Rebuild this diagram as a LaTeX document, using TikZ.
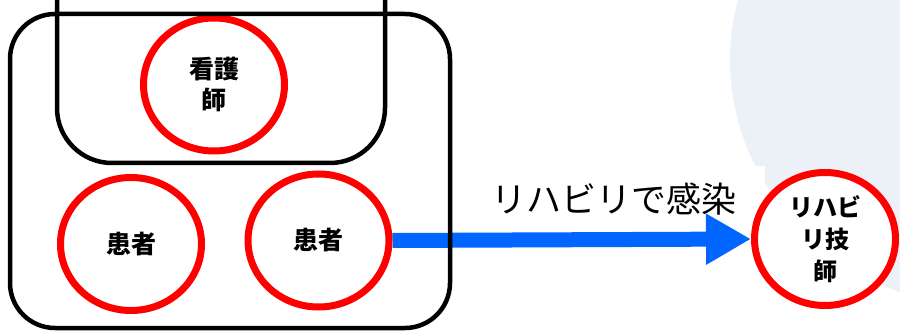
\documentclass[tikz,border=0pt]{standalone}
\usepackage{fontspec}
\usepackage{tikz}
\usetikzlibrary{arrows.meta, shapes.geometric}
\newfontfamily\jp{Noto Sans CJK JP}
\definecolor{ringred}{RGB}{255,0,0}
\definecolor{flowblue}{RGB}{0,102,255}
\definecolor{haze}{RGB}{236,241,248}
\pgfdeclarelayer{back}
\pgfsetlayers{back,main}

\tikzset{
  person/.style={ellipse, draw=ringred, line width=7pt, fill=white, inner sep=0pt,
    minimum width=141pt, minimum height=133pt, align=center,
    font=\jp\bfseries\fontsize{25}{31}\selectfont},
  ward/.style={draw=black, line width=4.5pt},
  flow/.style={draw=flowblue, line width=15pt, -{Triangle[length=45pt, width=48pt]}}
}

\begin{document}
\begin{tikzpicture}[x=1pt, y=-1pt]
  \useasboundingbox (0,0) rectangle (900,331);

  % people
  \node[person] (nurse) at (214,84.5) {看護\\師};
  \node[person] (patientA) at (131,244) {患者};
  \node[person] (patientB) at (318.5,240.5) {患者};
  \node[person, font=\jp\bfseries\fontsize{24}{32}\selectfont] (therapist) at (825,239) {リハビ\\リ技\\師};

  % wards
  \draw[ward, rounded corners=45pt] (10,14) rectangle (450,328);
  \draw[ward, rounded corners=55pt] (57,-90) rectangle (385,163);

  \begin{pgfonlayer}{back}
    \fill[haze] (1000,60) ellipse [x radius=270, y radius=250];
    \node[fill=white, inner xsep=28pt, inner ysep=17pt, font=\jp\fontsize{35}{40}\selectfont] (infect) at (614,199) {リハビリで感染};
    \draw[flow] (patientB.east) -- (therapist.west);
  \end{pgfonlayer}
\end{tikzpicture}
\end{document}
